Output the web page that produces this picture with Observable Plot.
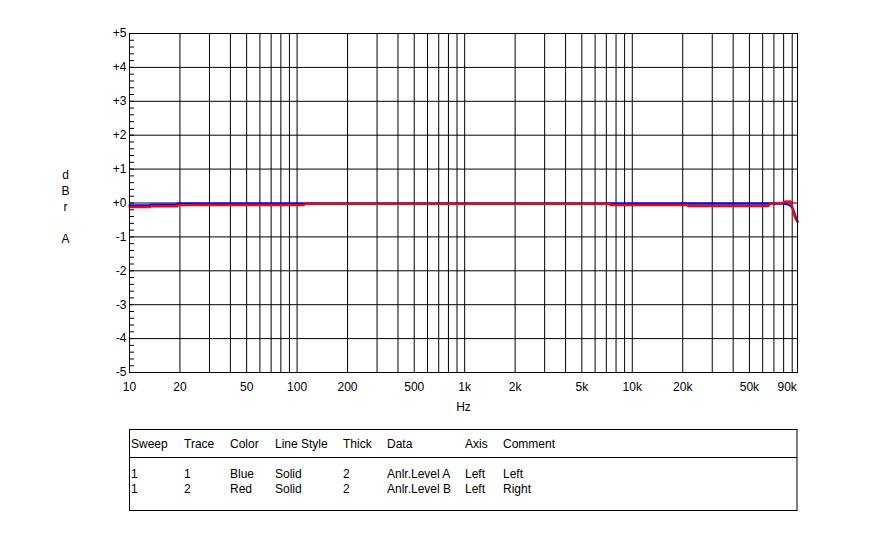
<!DOCTYPE html>
<html>
<head>
<meta charset="utf-8">
<script src="https://cdn.jsdelivr.net/npm/d3@7"></script>
<script src="https://cdn.jsdelivr.net/npm/@observablehq/plot@0.6"></script>
<style>
  body { margin: 0; background: #fff; }
  svg { font-family: "Liberation Sans", Arial, sans-serif; }
</style>
</head>
<body>
<div id="chart"></div>
<script>
// ---- Data ----
const blueFreq = [10, 13.3, 13.3, 19.3, 19.3, 20000, 80000, 85000, 88000, 90400, 92000, 93500, 95000, 96800];
const blueDb   = [-0.07, -0.07, -0.05, -0.05, -0.02, -0.02, -0.02, -0.04, -0.08, -0.15, -0.25, -0.35, -0.45, -0.56];

const redFreq = [10, 13.3, 13.3, 19.3, 19.3, 110, 110, 7400, 7400, 21500, 21500, 65000, 66000, 79000, 81000, 88000, 89500, 91000, 93000, 95000, 96800];
const redDb   = [-0.12, -0.12, -0.1, -0.1, -0.06, -0.06, -0.03, -0.03, -0.06, -0.06, -0.09, -0.09, -0.03, 0.0, 0.04, 0.05, -0.05, -0.2, -0.4, -0.5, -0.54];

const xGridTicks = [20, 30, 40, 50, 60, 70, 80, 90, 100,
  200, 300, 400, 500, 600, 700, 800, 900, 1000,
  2000, 3000, 4000, 5000, 6000, 7000, 8000, 9000, 10000,
  20000, 30000, 40000, 50000, 60000, 70000, 80000, 90000];
const xLabelTicks = [10, 20, 50, 100, 200, 500, 1000, 2000, 5000, 10000, 20000, 50000];
const xLabelText  = ["10", "20", "50", "100", "200", "500", "1k", "2k", "5k", "10k", "20k", "50k"];
const xLastTick = [90000];
const xLastText = ["90k"];

const yMajorTicks = [-5, -4, -3, -2, -1, 0, 1, 2, 3, 4, 5];
const yMinorTicks = d3.range(-25, 26).map(i => i / 5);

const legendHeader = ["Sweep", "Trace", "Color", "Line Style", "Thick", "Data", "Axis", "Comment"];
const legendRows = [
  ["1", "1", "Blue", "Solid", "2", "Anlr.Level A", "Left", "Left"],
  ["1", "2", "Red", "Solid", "2", "Anlr.Level B", "Left", "Right"]
];

// ---- Build ----
const blue = blueFreq.map((f, i) => ({f, v: blueDb[i]}));
const red = redFreq.map((f, i) => ({f, v: redDb[i]}));
const fmtY = d => d > 0 ? `+${d}` : d === 0 ? "+0" : `-${-d}`;
const FONT = '"Liberation Sans", Arial, sans-serif';

const plot = Plot.plot({
  width: 880,
  height: 540,
  marginLeft: 129,
  marginRight: 83,
  marginTop: 33,
  marginBottom: 168,
  style: {fontFamily: FONT, fontSize: "12px", color: "#000", background: "#fff"},
  x: {type: "log", domain: [10, 96800], axis: null},
  y: {domain: [-5, 5]},
  marks: [
    Plot.ruleX(xGridTicks, {stroke: "#000", strokeWidth: 1}),
    Plot.ruleY(yMajorTicks.filter(d => d > -5 && d < 5), {stroke: "#000", strokeWidth: 1}),
    Plot.axisY({ticks: yMinorTicks, tickSize: 5, dx: 5, tickFormat: () => "", label: null, stroke: "#000"}),
    Plot.axisY({ticks: yMajorTicks, tickSize: 0, tickPadding: 3, tickFormat: fmtY, label: null, fill: "#000"}),
    Plot.text(xLabelTicks, {x: d => d, frameAnchor: "bottom", lineAnchor: "top", dy: 10, text: (d, i) => xLabelText[i], fill: "#000"}),
    Plot.text(xLastTick, {x: d => d, frameAnchor: "bottom", lineAnchor: "top", dy: 10, dx: -5, text: (d, i) => xLastText[i], fill: "#000"}),
    Plot.line(blue, {x: "f", y: "v", stroke: "#0000ff", strokeWidth: 2.2}),
    Plot.line(red, {x: "f", y: "v", stroke: "#ff0000", strokeWidth: 2.2}),
    Plot.frame({stroke: "#000"}),
    Plot.text(["Hz"], {frameAnchor: "bottom", dy: 35, lineAnchor: "middle", fill: "#000"}),
    Plot.text(["d\nB\nr\n\nA"], {frameAnchor: "left", dx: -64, dy: 2.5, lineHeight: 1.333, lineAnchor: "middle", textAnchor: "middle", fill: "#000"})
  ]
});

document.getElementById("chart").appendChild(plot);

// ---- Legend table (drawn into the same SVG) ----
const svg = d3.select(plot);
const tbl = svg.append("g").attr("font-family", FONT).attr("font-size", 12).attr("fill", "#000").attr("text-anchor", "start");
tbl.append("rect").attr("x", 129.5).attr("y", 429.5).attr("width", 667.5).attr("height", 81)
  .attr("fill", "none").attr("stroke", "#000");
tbl.append("line").attr("x1", 129.5).attr("x2", 797).attr("y1", 457.5).attr("y2", 457.5).attr("stroke", "#000");
const colX = [131, 184, 230, 275, 343, 387, 465, 503];
legendHeader.forEach((t, i) => tbl.append("text").attr("x", colX[i]).attr("y", 447.6).text(t));
const rowY = [478.3, 492.8];
legendRows.forEach((row, r) => row.forEach((t, i) => tbl.append("text").attr("x", colX[i]).attr("y", rowY[r]).text(t)));
</script>
</body>
</html>
